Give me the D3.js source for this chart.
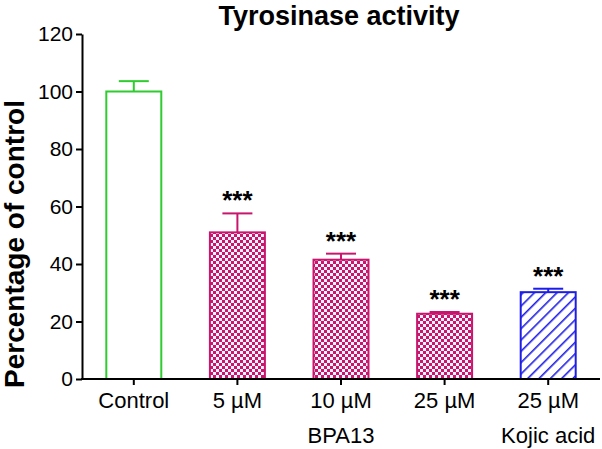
<!DOCTYPE html>
<html>
<head>
<meta charset="utf-8">
<script src="https://cdn.jsdelivr.net/npm/d3@7"></script>
<style>
  html, body { margin: 0; padding: 0; background: #fff; }
  svg { display: block; font-family: "Liberation Sans", Arial, sans-serif; }
</style>
</head>
<body>
<svg id="chart" width="602" height="449"></svg>
<script>
// ---- data ----
const ids = ["control", "bpa5", "bpa10", "bpa25", "kojic25"];
const doseLabels = ["Control", "5 µM", "10 µM", "25 µM", "25 µM"];
const groupLabels = ["", "", "BPA13", "", "Kojic acid"];
const treatments = ["control", "BPA13", "BPA13", "BPA13", "Kojic acid"];
const values = [100, 51, 41.5, 22.7, 30.2];
const errors = [3.6, 6.6, 2.1, 0.6, 1.2];
const significance = ["", "***", "***", "***", "***"];
const yTicks = [0, 20, 40, 60, 80, 100, 120];
const title = "Tyrosinase activity";
const yTitle = "Percentage of control";

// ---- setup ----
const svg = d3.select("#chart");
const margin = { left: 82, right: 2, top: 34, bottom: 70 };
const W = 602, H = 449;
const x = d3.scaleBand().domain(ids).range([margin.left, W - margin.right])
  .paddingInner(0.45).paddingOuter(0.225);
const y = d3.scaleLinear().domain([0, 120]).range([379, 34]);

const green = "#2ecc2e", magenta = "#c8166e", blue = "#1d1de6";

const defs = svg.append("defs");
const chk = defs.append("pattern").attr("id", "checker")
  .attr("patternUnits", "userSpaceOnUse").attr("width", 6).attr("height", 6);
chk.append("rect").attr("width", 6).attr("height", 6).attr("fill", "#fdf2f7");
chk.append("rect").attr("width", 3).attr("height", 3).attr("fill", magenta);
chk.append("rect").attr("x", 3).attr("y", 3).attr("width", 3).attr("height", 3).attr("fill", magenta);

const hatch = defs.append("pattern").attr("id", "hatch")
  .attr("patternUnits", "userSpaceOnUse").attr("width", 8).attr("height", 8)
  .attr("patternTransform", "rotate(45)");
hatch.append("rect").attr("width", 8).attr("height", 8).attr("fill", "#fff");
hatch.append("line").attr("x1", 0).attr("y1", 0).attr("x2", 0).attr("y2", 8)
  .attr("stroke", blue).attr("stroke-width", 3.2);

const style = {
  "control": { fill: "#fff", stroke: green },
  "BPA13": { fill: "url(#checker)", stroke: magenta },
  "Kojic acid": { fill: "url(#hatch)", stroke: blue }
};

const data = ids.map((id, i) => ({
  id, value: values[i], err: errors[i], sig: significance[i],
  dose: doseLabels[i], group: groupLabels[i], treat: treatments[i]
}));

// ---- error bars ----
const capW = 30;
const eb = svg.append("g");
data.forEach(d => {
  const cx = x(d.id) + x.bandwidth() / 2;
  const c = style[d.treat].stroke;
  eb.append("line").attr("x1", cx).attr("x2", cx)
    .attr("y1", y(d.value)).attr("y2", y(d.value + d.err))
    .attr("stroke", c).attr("stroke-width", 2);
  eb.append("line").attr("x1", cx - capW / 2).attr("x2", cx + capW / 2)
    .attr("y1", y(d.value + d.err)).attr("y2", y(d.value + d.err))
    .attr("stroke", c).attr("stroke-width", 2);
});

// ---- bars ----
svg.append("g").selectAll("rect").data(data).join("rect")
  .attr("x", d => x(d.id) + 1)
  .attr("y", d => y(d.value))
  .attr("width", x.bandwidth() - 2)
  .attr("height", d => y(0) - y(d.value))
  .attr("fill", d => style[d.treat].fill)
  .attr("stroke", d => style[d.treat].stroke)
  .attr("stroke-width", 2);

// ---- significance ----
svg.append("g").selectAll("text").data(data).join("text")
  .attr("x", d => x(d.id) + x.bandwidth() / 2)
  .attr("y", d => y(d.value + d.err) - 4)
  .attr("text-anchor", "middle")
  .attr("font-size", 26)
  .attr("font-weight", "bold")
  .attr("fill", "#000")
  .text(d => d.sig);

// ---- axes ----
const yAxis = svg.append("g").attr("transform", `translate(${margin.left},0)`)
  .call(d3.axisLeft(y).tickValues(yTicks).tickSize(6).tickSizeOuter(0));
yAxis.select(".domain").attr("stroke-width", 2);
yAxis.selectAll(".tick line").attr("stroke-width", 2);
yAxis.selectAll(".tick text").attr("font-size", 21).attr("fill", "#000")
  .attr("font-family", "Liberation Sans, Arial, sans-serif").attr("x", -9);

const xAxis = svg.append("g").attr("transform", `translate(0,${y(0)})`)
  .call(d3.axisBottom(x).tickSize(6).tickSizeOuter(0).tickFormat(() => ""));
xAxis.select(".domain").attr("stroke-width", 2).attr("d", `M${margin.left - 1},0H${W - 2}`);
xAxis.selectAll(".tick line").attr("stroke-width", 2);

const xl = svg.append("g").attr("font-size", 22).attr("text-anchor", "middle");
data.forEach(d => {
  const cx = x(d.id) + x.bandwidth() / 2;
  xl.append("text").attr("x", cx).attr("y", 408).text(d.dose);
  if (d.group) xl.append("text").attr("x", cx).attr("y", 443).text(d.group);
});

// ---- titles ----
svg.append("text").attr("x", 339).attr("y", 25).attr("text-anchor", "middle")
  .attr("font-size", 27).attr("font-weight", "bold").text(title);
svg.append("text").attr("transform", "translate(24,244) rotate(-90)")
  .attr("text-anchor", "middle").attr("font-size", 28).attr("font-weight", "bold")
  .text(yTitle);
</script>
</body>
</html>
